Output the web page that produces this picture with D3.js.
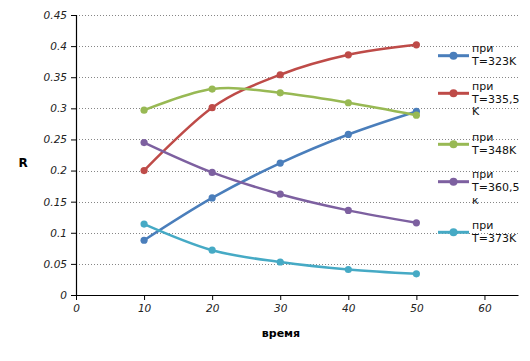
<!DOCTYPE html>
<html><head><meta charset="utf-8">
<script src="https://cdn.jsdelivr.net/npm/d3@7"></script>
<style>body{margin:0;background:#fff}svg{display:block}</style>
</head><body><svg id="c" width="530" height="361"></svg>
<script>
const times = [10, 20, 30, 40, 50];
const seriesNames = ["при T=323K", "при T=335,5 K", "при T=348K", "при T=360,5 к", "при T=373K"];
const legendLines = [["при","T=323K"],["при","T=335,5","K"],["при","T=348K"],["при","T=360,5","к"],["при","T=373K"]];
const s323 = [0.088, 0.156, 0.212, 0.258, 0.295];
const s335 = [0.200, 0.301, 0.354, 0.386, 0.402];
const s348 = [0.297, 0.331, 0.325, 0.309, 0.289];
const s360 = [0.245, 0.197, 0.162, 0.136, 0.116];
const s373 = [0.114, 0.072, 0.053, 0.041, 0.034];
const colors = ["#4a7ebb", "#be4b48", "#98b954", "#7d60a0", "#46aac5"];
const yTicks = [0, 0.05, 0.1, 0.15, 0.2, 0.25, 0.3, 0.35, 0.4, 0.45];
const xTicks = [0, 10, 20, 30, 40, 50, 60];
const allSeries = [s323, s335, s348, s360, s373];

const svg = d3.select("#c");
const x = d3.scaleLinear().domain([0, 65]).range([76, 518.5]);
const y = d3.scaleLinear().domain([0, 0.45]).range([295, 15]);

// grid
svg.append("g").selectAll("line").data(yTicks.filter(d => d > 0)).join("line")
  .attr("x1", x(0)).attr("x2", x(65)).attr("y1", d => Math.round(y(d)) + 0.5).attr("y2", d => Math.round(y(d)) + 0.5)
  .attr("stroke", "#868686").attr("stroke-width", 1).attr("stroke-dasharray", "1,2");

const tickFont = "'DejaVu Sans', sans-serif";
const yAxis = svg.append("g").attr("transform", `translate(${x(0)},0)`)
  .call(d3.axisLeft(y).tickValues(yTicks).tickSize(5).tickPadding(4).tickFormat(d => String(+d.toFixed(2))));
const xAxis = svg.append("g").attr("transform", `translate(0,${y(0)})`)
  .call(d3.axisBottom(x).tickValues(xTicks).tickSize(5).tickPadding(5).tickFormat(d => String(d)));
[yAxis, xAxis].forEach(g => {
  g.select(".domain").attr("stroke", "#000").attr("stroke-width", 1.2);
  g.selectAll(".tick line").attr("stroke", "#000");
  g.selectAll("text").attr("font-family", tickFont).attr("font-size", 10.5).attr("font-style", "italic").attr("fill", "#222");
});
xAxis.select(".domain").attr("d", `M${x(0)},0.5H${x(65)}`);

// axis titles
svg.append("text").attr("x", 23).attr("y", 167).attr("text-anchor", "middle")
  .attr("font-family", tickFont).attr("font-weight", "bold").attr("font-size", 12).text("R");
svg.append("text").attr("x", 281).attr("y", 337).attr("text-anchor", "middle")
  .attr("font-family", tickFont).attr("font-weight", "bold").attr("font-size", 11).text("время");

const line = d3.line().x((d, i) => x(times[i])).y(d => y(d)).curve(d3.curveCatmullRom.alpha(0));
allSeries.forEach((s, k) => {
  svg.append("path").attr("d", line(s)).attr("fill", "none").attr("stroke", colors[k]).attr("stroke-width", 2.5);
  svg.append("g").selectAll("circle").data(s).join("circle")
    .attr("cx", (d, i) => x(times[i])).attr("cy", d => y(d)).attr("r", 3.6).attr("fill", colors[k]);
});

// legend
const legY = [55.7, 93.3, 144.3, 181.7, 232.3];
const legG = svg.append("g");
legendLines.forEach((lines, k) => {
  const cy = legY[k];
  legG.append("line").attr("x1", 438).attr("x2", 469).attr("y1", cy).attr("y2", cy).attr("stroke", colors[k]).attr("stroke-width", 3);
  legG.append("circle").attr("cx", 453.5).attr("cy", cy).attr("r", 4).attr("fill", colors[k]);
  const t = legG.append("text").attr("font-family", tickFont).attr("font-size", 11).attr("fill", "#111");
  lines.forEach((l, j) => {
    t.append("tspan").attr("x", 472).attr("y", cy - 3.5 + j * 12.7).text(l);
  });
});
</script></body></html>
